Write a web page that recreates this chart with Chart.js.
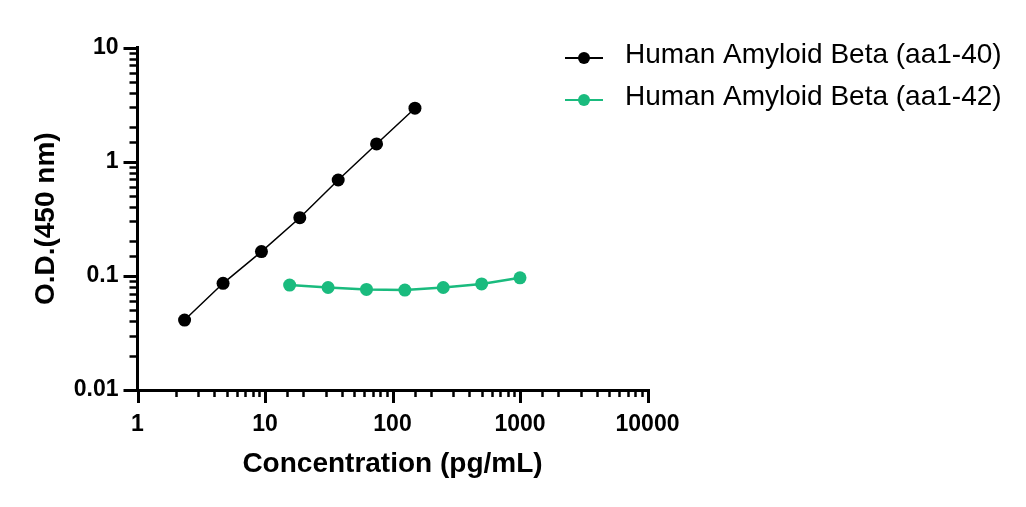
<!DOCTYPE html>
<html lang="en">
<head>
  <meta charset="UTF-8">
  <title>Human Amyloid Beta standard curves</title>
  <style>
    * { box-sizing: border-box; margin:0; padding:0; }
    html, body { background:#fff; }
    #wrap { position:relative; width:1026px; height:507px; }
  </style>
  <script src="https://cdn.jsdelivr.net/npm/chart.js"></script>
</head>
<body>
  <div id="wrap"><canvas id="curve"></canvas></div>

  <script>
    // values
    const conc40 = [2.34, 4.69, 9.38, 18.75, 37.5, 75, 150];
    const od40   = [0.041, 0.086, 0.163, 0.323, 0.691, 1.43, 2.94];
    const conc42 = [15.6, 31.25, 62.5, 125, 250, 500, 1000];
    const od42   = [0.083, 0.079, 0.076, 0.075, 0.079, 0.085, 0.096];
    const seriesNames = ['Human Amyloid Beta (aa1-40)', 'Human Amyloid Beta (aa1-42)'];
    const xRange = [1, 10000];
    const yRange = [0.01, 10];

    const BLACK = '#000000';
    const GREEN = '#1abb7e';
    const FONT = 'Arial, "Liberation Sans", Helvetica, sans-serif';

    const isPow10 = v => { const l = Math.log10(v); return Math.abs(l - Math.round(l)) < 1e-6; };
    const pts = (xs, ys) => xs.map((x, i) => ({ x: x, y: ys[i] }));

    // log axes: long ticks at decades, short ticks in between
    const logTicks = {
      id: 'logTicks',
      afterDraw(chart) {
        const ctx = chart.ctx;
        const { left, bottom } = chart.chartArea;
        const xs = chart.scales.x, ys = chart.scales.y;
        ctx.save();
        ctx.strokeStyle = BLACK;
        xs.ticks.forEach(t => {
          const major = isPow10(t.value);
          const px = Math.round(xs.getPixelForValue(t.value)) + 0.5;
          ctx.lineWidth = major ? 3 : 2.5;
          ctx.beginPath();
          ctx.moveTo(px, bottom - 1);
          ctx.lineTo(px, bottom + (major ? 13 : 7));
          ctx.stroke();
        });
        ys.ticks.forEach(t => {
          const major = isPow10(t.value);
          const py = Math.round(ys.getPixelForValue(t.value)) + 0.5;
          ctx.lineWidth = major ? 3 : 2.5;
          ctx.beginPath();
          ctx.moveTo(left + 1, py);
          ctx.lineTo(left - (major ? 14 : 8), py);
          ctx.stroke();
        });
        ctx.restore();
      }
    };

    // legend at the top right, line + dot + label
    const sideLegend = {
      id: 'sideLegend',
      afterDraw(chart) {
        const ctx = chart.ctx;
        ctx.save();
        chart.data.datasets.forEach((ds, i) => {
          const y = 58 + i * 42;
          ctx.strokeStyle = ds.borderColor;
          ctx.lineWidth = 2;
          ctx.beginPath(); ctx.moveTo(565, y); ctx.lineTo(603, y); ctx.stroke();
          ctx.fillStyle = ds.pointBackgroundColor;
          ctx.beginPath(); ctx.arc(584, y, 6, 0, Math.PI * 2); ctx.fill();
          ctx.fillStyle = BLACK;
          ctx.font = '28px ' + FONT;
          ctx.textBaseline = 'middle';
          ctx.fillText(ds.label, 625, y - 3);
        });
        ctx.restore();
      }
    };

    new Chart(document.getElementById('curve'), {
      type: 'line',
      data: {
        datasets: [
          { label: seriesNames[0], data: pts(conc40, od40), borderColor: BLACK, borderWidth: 1.5,
            pointBackgroundColor: BLACK, pointBorderWidth: 0, pointRadius: 6.5, tension: 0 },
          { label: seriesNames[1], data: pts(conc42, od42), borderColor: GREEN, borderWidth: 2.5,
            pointBackgroundColor: GREEN, pointBorderWidth: 0, pointRadius: 6.5, tension: 0 }
        ]
      },
      options: {
        responsive: true,
        maintainAspectRatio: false,
        animation: false,
        layout: { padding: { left: 0, top: 47.5, right: 378.5, bottom: 0 } },
        plugins: { legend: { display: false }, tooltip: { enabled: false } },
        scales: {
          x: {
            type: 'logarithmic',
            min: xRange[0], max: xRange[1],
            afterFit: s => { s.height = 117; },
            grid: { display: false, drawTicks: false },
            border: { display: true, color: BLACK, width: 3 },
            ticks: {
              autoSkip: false, maxRotation: 0, padding: 21, color: BLACK,
              font: { family: FONT, size: 23, weight: 'bold' },
              callback: v => isPow10(v) ? String(Math.round(v)) : ''
            },
            title: {
              display: true, text: 'Concentration (pg/mL)', color: BLACK,
              font: { family: FONT, size: 28, weight: 'bold' },
              padding: { top: 0, bottom: 26 }
            }
          },
          y: {
            type: 'logarithmic',
            min: yRange[0], max: yRange[1],
            afterFit: s => { s.width = 137.5; },
            grid: { display: false, drawTicks: false },
            border: { display: true, color: BLACK, width: 3 },
            ticks: {
              autoSkip: false, padding: 19, color: BLACK,
              font: { family: FONT, size: 23, weight: 'bold' },
              callback: v => isPow10(v) ? String(v) : ''
            },
            title: {
              display: true, text: 'O.D.(450 nm)', color: BLACK,
              font: { family: FONT, size: 28, weight: 'bold' },
              padding: { top: 29, bottom: 0 }
            }
          }
        }
      },
      plugins: [logTicks, sideLegend]
    });
  </script>
</body>
</html>
